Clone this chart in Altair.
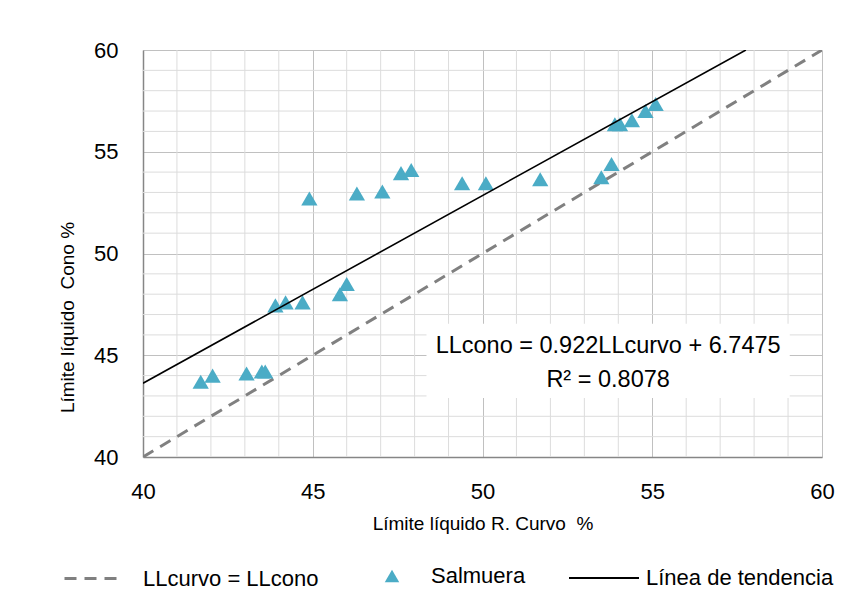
import altair as alt
import pandas as pd

# Data
ll_curvo = [41.7, 42.05, 43.05, 43.5, 43.6, 43.9, 44.2, 44.7, 44.9, 45.8, 46.0,
            46.3, 47.05, 47.6, 47.9, 49.4, 50.1, 51.7, 53.5, 53.8, 53.9, 54.05,
            54.4, 54.8, 55.1]
ll_cono = [43.7, 44.0, 44.1, 44.2, 44.2, 47.45, 47.6, 47.6, 52.7, 48.0, 48.5,
           52.95, 53.05, 53.95, 54.1, 53.45, 53.45, 53.65, 53.75, 54.4, 56.35, 56.35,
           56.55, 57.0, 57.35]

slope = 0.922
intercept = 6.7475
trend_x = [40, (60 - intercept) / slope]
identity_x = [40, 60]

major_ticks = [40, 45, 50, 55, 60]
minor_ticks = [v for v in range(41, 60) if v % 5 != 0]

eq_text = ["LLcono = 0.922LLcurvo + 6.7475", "R² = 0.8078"]
eq_x = [53.7, 53.7]
eq_y = [45.45, 43.8]
box_x = [48.35, 59.05]
box_y = [42.9, 46.55]

FONT = "Liberation Sans"
TEAL = "#4BACC6"
GREY = "#808080"
NB = "\u00a0"

xs = alt.Scale(domain=[40, 60], nice=False, zero=False)
ys = alt.Scale(domain=[40, 60], nice=False, zero=False)

pts = pd.DataFrame({"x": ll_curvo, "y": ll_cono, "s": "Salmuera"})
ident = pd.DataFrame({"x": identity_x, "y": identity_x, "s": "LLcurvo = LLcono"})
trend = pd.DataFrame({"x": trend_x, "s": "Línea de tendencia"})
minor = pd.DataFrame({"v": minor_ticks})
eq = pd.DataFrame({"x": eq_x, "y": eq_y, "t": eq_text})
box = pd.DataFrame({"x": [box_x[0]], "x2": [box_x[1]], "y": [box_y[0]], "y2": [box_y[1]]})

x_axis = alt.Axis(values=major_ticks, title=f"Límite líquido R. Curvo {NB}%", grid=True,
                  gridColor="#c0c0c0", ticks=False, domainColor="#868686",
                  domainWidth=1.5, labelFontSize=22, labelPadding=24, labelFlush=False,
                  titleFontSize=19, titleFontWeight="normal", titlePadding=12,
                  labelColor="black", titleColor="black", labelFont=FONT, titleFont=FONT)
y_axis = alt.Axis(values=major_ticks, title=f"Límite líquido {NB}Cono %", grid=True,
                  gridColor="#c0c0c0", ticks=False, domainColor="#868686",
                  domainWidth=1.5, labelFontSize=22, labelPadding=25, labelFlush=False,
                  titleFontSize=19, titleFontWeight="normal", titlePadding=16,
                  titleY=267,
                  labelColor="black", titleColor="black", labelFont=FONT, titleFont=FONT)

minor_x = alt.Chart(minor).mark_rule(color="#dcdcdc", strokeWidth=1).encode(
    x=alt.X("v:Q", scale=xs, axis=x_axis))
minor_y = alt.Chart(minor).mark_rule(color="#dcdcdc", strokeWidth=1).encode(
    y=alt.Y("v:Q", scale=ys, axis=y_axis))

leg_common = dict(orient="none", title=None, padding=0, labelFontSize=22, labelLimit=0,
                  labelFont=FONT, labelColor="black")

ident_line = alt.Chart(ident).mark_line(color=GREY, strokeWidth=3, clip=True).encode(
    x=alt.X("x:Q", scale=xs),
    y=alt.Y("y:Q", scale=ys),
    strokeDash=alt.StrokeDash("s:N", scale=alt.Scale(range=[[12, 8]]),
                              legend=alt.Legend(legendX=-80, legendY=497, symbolType="stroke",
                                                symbolSize=3600, symbolStrokeWidth=3,
                                                symbolStrokeColor=GREY, labelOffset=17,
                                                **leg_common)))

points = alt.Chart(pts).mark_point(filled=True, fill=TEAL, color=TEAL, opacity=1, size=265).encode(
    x=alt.X("x:Q", scale=xs),
    y=alt.Y("y:Q", scale=ys),
    shape=alt.Shape("s:N", scale=alt.Scale(range=["triangle-up"]),
                    legend=alt.Legend(legendX=238, legendY=515, symbolSize=210,
                                      symbolFillColor=TEAL, symbolStrokeColor=TEAL,
                                      symbolOpacity=1, labelOffset=28, **leg_common)))

trend_line = alt.Chart(trend).transform_calculate(
    y=f"{slope} * datum.x + {intercept}"
).mark_line(strokeWidth=1.6, clip=True).encode(
    x=alt.X("x:Q", scale=xs),
    y=alt.Y("y:Q", scale=ys),
    color=alt.Color("s:N", scale=alt.Scale(range=["black"]),
                    legend=alt.Legend(legendX=425, legendY=492, symbolType="stroke",
                                      symbolSize=4900, symbolStrokeWidth=1.8, labelOffset=6,
                                      **leg_common)))

box_rect = alt.Chart(box).mark_rect(fill="white").encode(
    x=alt.X("x:Q", scale=xs), x2="x2:Q",
    y=alt.Y("y:Q", scale=ys), y2="y2:Q")

eq_txt = alt.Chart(eq).mark_text(fontSize=23.5, font=FONT, color="black").encode(
    x=alt.X("x:Q", scale=xs), y=alt.Y("y:Q", scale=ys), text="t:N")

chart = alt.layer(minor_x, minor_y, ident_line, points, trend_line, box_rect, eq_txt).properties(
    width=679, height=407,
    autosize=alt.AutoSizeParams(type="none"),
    padding={"left": 135, "top": 42, "right": 31, "bottom": 132},
    background="white",
).configure_view(stroke=None).resolve_scale(
    color="independent", shape="independent", strokeDash="independent")

chart.save("out.html", embed_options={"renderer": "svg", "actions": False})
